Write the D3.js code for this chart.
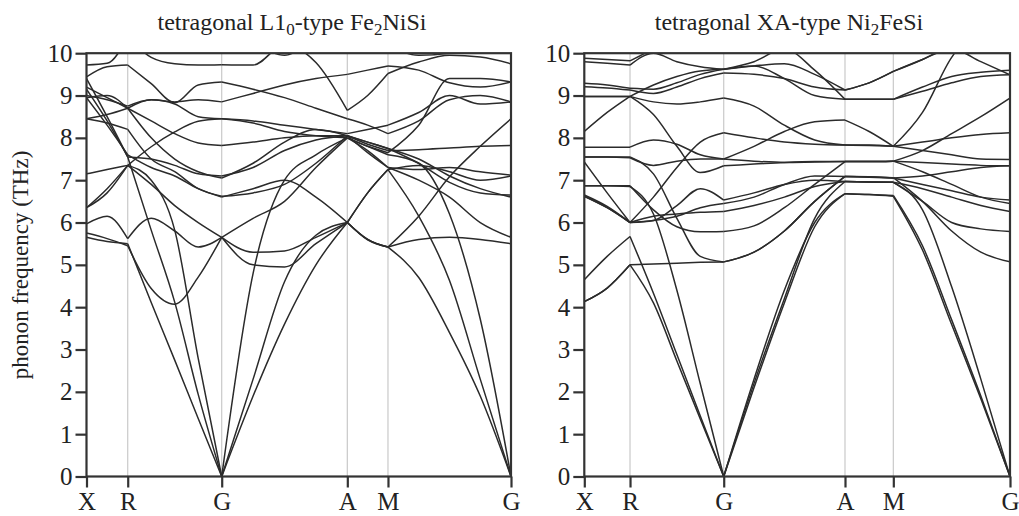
<!DOCTYPE html>
<html>
<head>
<meta charset="utf-8">
<script src="https://cdn.jsdelivr.net/npm/d3@7"></script>
<style>
  body { margin: 0; background: #fff; }
  svg { display: block; }
  text { font-family: "Liberation Serif", "Times New Roman", serif; fill: #222; }
</style>
</head>
<body>
<svg id="chart" width="1019" height="516"></svg>
<script>
// symmetry points along the path, and relative k distance of each one
var symLabels = ["X", "R", "G", "A", "M", "G"];
var kLeft  = [0, 0.0971, 0.3185, 0.6144, 0.7102, 1];
var kRight = [0, 0.1074, 0.3275, 0.6124, 0.7259, 1];
// samples read in each segment (X-R, R-G, G-A, A-M, M-G)
var segSteps = [2, 4, 4, 2, 4];
var yTicks = [0, 1, 2, 3, 4, 5, 6, 7, 8, 9, 10];

// frequencies (THz) read at X, XR, R, RG1..3, G, GA1..3, A, AM, M, MG1..3, G
var bandsFe2NiSi = [
  [5.65, 5.55, 5.5, 4.11, 2.75, 1.37, 0, 1.9, 3.6, 5.0, 6.0, 5.6, 5.42, 4.7, 3.4, 1.9, 0],
  [9.15, 8.4, 7.55, 5.82, 4.12, 1.94, 0, 2.3, 4.6, 5.7, 6.0, 6.7, 7.25, 6.15, 4.63, 2.3, 0],
  [7.15, 7.25, 7.35, 7.0, 5.82, 2.79, 0, 4.8, 7.0, 7.6, 8.0, 7.8, 7.6, 7.4, 6.2, 3.72, 0],
  [5.75, 5.62, 5.45, 4.44, 4.07, 4.71, 5.65, 5.0, 4.95, 5.5, 6.0, 5.59, 5.42, 6.15, 7.08, 7.8, 8.45],
  [5.97, 6.15, 5.62, 6.1, 5.8, 5.42, 5.65, 5.3, 5.33, 5.65, 6.0, 6.7, 7.25, 7.35, 7.2, 7.0, 7.1],
  [6.35, 6.7, 7.35, 7.79, 8.14, 8.39, 8.45, 8.35, 8.15, 8.05, 8.0, 7.8, 7.65, 8.3, 9.4, 9.4, 9.32],
  [9.4, 8.5, 7.55, 7.5, 7.35, 7.15, 7.1, 7.3, 7.7, 7.95, 8.05, 7.85, 7.7, 7.72, 7.76, 7.8, 7.82],
  [8.45, 8.55, 8.7, 8.4, 8.1, 7.88, 7.82, 7.9, 8.0, 8.05, 8.05, 7.9, 7.75, 7.5, 7.1, 6.8, 6.6],
  [9.2, 8.95, 8.7, 8.9, 8.8, 8.5, 8.45, 8.4, 8.3, 8.2, 8.1, 8.2, 8.3, 8.6, 9.0, 8.8, 8.85],
  [9.72, 9.76, 10.4, 9.9, 9.75, 9.72, 9.73, 9.72, 10.2, 9.78, 8.65, 9.0, 9.52, 9.79, 9.95, 9.91, 9.75],
  [9.44, 9.68, 9.72, 9.28, 8.83, 9.25, 9.32, 9.15, 8.95, 8.7, 8.45, 8.3, 8.1, 8.4, 8.9, 9.0, 8.85],
  [9.0, 8.9, 8.75, 8.9, 8.85, 8.9, 8.85, 9.05, 9.25, 9.4, 9.5, 9.6, 9.7, 9.6, 9.3, 9.2, 9.32],
  [6.35, 6.8, 7.35, 6.9, 6.4, 6.0, 5.65, 6.1, 6.5, 7.3, 8.0, 7.7, 7.3, 7.0, 6.6, 6.0, 5.65],
  [8.95, 8.3, 7.6, 7.3, 7.1, 6.8, 6.6, 6.8, 7.0, 6.6, 6.0, 5.6, 5.42, 5.6, 5.65, 5.6, 5.5],
  [8.45, 8.35, 8.2, 7.5, 7.2, 6.8, 6.62, 6.7, 6.9, 7.4, 8.05, 7.9, 7.75, 7.4, 6.95, 6.7, 6.65],
  [8.95, 9.0, 8.7, 8.0, 7.5, 7.2, 7.05, 7.4, 7.9, 8.2, 8.05, 7.65, 7.3, 7.25, 7.3, 7.2, 7.12],
  [10.5, 10.3, 10.1, 10.4, 10.0, 10.3, 10.4, 10.2, 9.95, 10.3, 10.5, 10.4, 10.2, 9.95, 10.0, 10.2, 10.4]
];

var bandsNi2FeSi = [
  [4.13, 4.45, 5.0, 4.1, 2.73, 1.36, 0, 2.3, 4.4, 6.0, 6.68, 6.66, 6.62, 5.35, 3.59, 1.84, 0],
  [4.65, 5.2, 5.67, 4.33, 2.88, 1.43, 0, 2.1, 4.1, 5.9, 6.68, 6.66, 6.64, 5.45, 3.7, 1.9, 0],
  [6.87, 6.87, 6.85, 6.2, 4.4, 2.19, 0, 2.2, 4.2, 6.1, 6.97, 6.96, 6.95, 6.3, 4.48, 2.3, 0],
  [4.13, 4.45, 5.0, 5.02, 5.04, 5.06, 5.07, 5.3, 5.8, 6.5, 7.09, 7.07, 7.05, 7.1, 7.2, 7.3, 7.34],
  [6.62, 6.35, 6.0, 6.15, 6.2, 6.24, 6.26, 6.4, 6.6, 6.85, 6.97, 6.96, 6.95, 6.5, 6.0, 5.85, 5.79],
  [6.65, 6.38, 6.0, 6.05, 6.15, 6.35, 6.45, 6.6, 6.9, 7.1, 7.09, 7.08, 7.05, 6.9, 6.75, 6.6, 6.53],
  [7.43, 6.7, 6.0, 6.6, 7.3, 7.9, 8.12, 8.0, 7.9, 7.85, 7.83, 7.83, 7.8, 7.9, 8.0, 8.08, 8.12],
  [7.55, 7.55, 7.53, 7.35, 7.45, 7.5, 7.5, 7.8, 8.15, 8.38, 8.42, 8.15, 7.8, 7.7, 7.6, 7.5, 7.49],
  [7.78, 7.78, 7.78, 7.95, 7.85, 7.6, 7.5, 7.45, 7.42, 7.43, 7.44, 7.44, 7.45, 7.7, 8.1, 8.5, 8.94],
  [8.15, 8.6, 8.98, 8.55, 7.8, 7.18, 7.34, 7.38, 7.42, 7.44, 7.44, 7.44, 7.45, 7.42, 7.38, 7.35, 7.34],
  [7.55, 7.55, 7.55, 7.15, 6.1, 5.2, 5.07, 5.3, 5.8, 6.5, 7.09, 7.08, 7.06, 6.5, 5.8, 5.3, 5.07],
  [6.87, 6.87, 6.87, 6.3, 5.9, 5.78, 5.79, 5.92, 6.35, 6.9, 7.44, 7.44, 7.45, 7.2, 6.9, 6.6, 6.45],
  [6.62, 6.35, 6.0, 6.05, 6.4, 6.8, 6.53, 6.7, 6.9, 7.0, 6.97, 6.96, 6.95, 6.8, 6.6, 6.4, 6.26],
  [8.98, 8.98, 8.98, 8.85, 8.8, 8.85, 8.94, 8.75, 8.3, 7.95, 7.83, 7.82, 7.8, 8.6, 9.9, 10.6, 10.5],
  [9.21, 9.18, 9.13, 9.05, 9.2, 9.4, 9.53, 9.5, 9.4, 9.2, 9.13, 9.3, 9.57, 9.85, 10.1, 9.8, 9.49],
  [9.29, 9.25, 9.17, 9.15, 9.3, 9.5, 9.62, 9.7, 9.4, 9.0, 8.91, 8.91, 8.91, 9.2, 9.45, 9.55, 9.6],
  [8.98, 8.98, 8.98, 9.25, 9.45, 9.58, 9.62, 9.8, 10.1, 9.6, 8.91, 8.91, 8.91, 9.1, 9.3, 9.45, 9.49],
  [9.88, 9.85, 9.82, 10.1, 10.4, 10.5, 10.5, 10.5, 10.5, 10.5, 10.5, 10.5, 10.5, 10.5, 10.5, 10.5, 10.5],
  [9.8, 9.76, 9.72, 10.0, 9.8, 9.68, 9.62, 9.7, 9.75, 9.5, 9.13, 9.3, 9.57, 9.85, 10.2, 10.4, 10.5]
];

var panels = [
  { left: 86.5, right: 511, k: kLeft, bands: bandsFe2NiSi, tx: 292,
    title: [["tetragonal L1", 0], ["0", 1], ["-type Fe", 0], ["2", 1], ["NiSi", 0]] },
  { left: 584.3, right: 1010, k: kRight, bands: bandsNi2FeSi, tx: 789,
    title: [["tetragonal XA-type Ni", 0], ["2", 1], ["FeSi", 0]] }
];

var plotTop = 53.2, plotBottom = 476.5;
var svg = d3.select("#chart");

// k grid of the sampled points
function kGrid(kSym) {
  var g = [];
  segSteps.forEach(function(n, i) {
    for (var j = 0; j < n; j++) g.push(kSym[i] + (kSym[i + 1] - kSym[i]) * j / n);
  });
  g.push(kSym[kSym.length - 1]);
  return g;
}

panels.forEach(function(p, pi) {
  var x = d3.scaleLinear().domain([0, 1]).range([p.left, p.right]);
  var y = d3.scaleLinear().domain([0, 10]).range([plotBottom, plotTop]);
  var grid = kGrid(p.k);
  var g = svg.append("g");

  // light vertical lines at the inner symmetry points
  g.selectAll("line.sym")
    .data(p.k.slice(1, -1))
    .enter().append("line")
    .attr("x1", function(d) { return x(d); })
    .attr("x2", function(d) { return x(d); })
    .attr("y1", plotTop).attr("y2", plotBottom)
    .attr("stroke", "#c9c9c9").attr("stroke-width", 1.2);

  g.append("clipPath").attr("id", "clip" + pi)
    .append("rect")
    .attr("x", p.left).attr("y", plotTop)
    .attr("width", p.right - p.left).attr("height", plotBottom - plotTop);

  var line = d3.line()
    .x(function(d) { return x(d[0]); })
    .y(function(d) { return y(d[1]); })
    .curve(d3.curveMonotoneX);

  // each band drawn segment by segment so it may kink at symmetry points
  var pieces = [];
  p.bands.forEach(function(b) {
    var start = 0;
    segSteps.forEach(function(n) {
      var pts = [];
      for (var j = start; j <= start + n; j++) pts.push([grid[j], b[j]]);
      pieces.push(pts);
      start += n;
    });
  });

  g.append("g").attr("clip-path", "url(#clip" + pi + ")")
    .selectAll("path")
    .data(pieces)
    .enter().append("path")
    .attr("d", line)
    .attr("fill", "none")
    .attr("stroke", "#2b2b2b")
    .attr("stroke-width", 1.5);

  // frame
  g.append("rect")
    .attr("x", p.left).attr("y", plotTop)
    .attr("width", p.right - p.left).attr("height", plotBottom - plotTop)
    .attr("fill", "none").attr("stroke", "#333").attr("stroke-width", 2.2);

  var yAxis = g.append("g")
    .attr("transform", "translate(" + p.left + ",0)")
    .call(d3.axisLeft(y).tickValues(yTicks).tickSize(11).tickPadding(3));
  var xAxis = g.append("g")
    .attr("transform", "translate(0," + plotBottom + ")")
    .call(d3.axisBottom(x).tickValues(p.k).tickSize(11).tickPadding(5)
      .tickFormat(function(d, i) { return symLabels[i]; }));

  [yAxis, xAxis].forEach(function(a) {
    a.select(".domain").remove();
    a.selectAll("line").attr("stroke", "#333").attr("stroke-width", 2.2);
    a.selectAll("text").style("font-size", "25px").attr("fill", "#222")
      .style("font-family", '"Liberation Serif", serif');
  });

  // title with subscripts
  var t = svg.append("text")
    .attr("x", p.tx).attr("y", 30)
    .attr("text-anchor", "middle")
    .style("font-size", "24px");
  var wasSub = false;
  p.title.forEach(function(part) {
    var s = t.append("tspan").text(part[0]);
    if (part[1]) s.attr("dy", 5).style("font-size", "17px");
    else if (wasSub) s.attr("dy", -5);
    wasSub = !!part[1];
  });
});

svg.append("text")
  .attr("transform", "translate(28,265) rotate(-90)")
  .attr("text-anchor", "middle")
  .style("font-size", "23px")
  .text("phonon frequency (THz)");
</script>
</body>
</html>
